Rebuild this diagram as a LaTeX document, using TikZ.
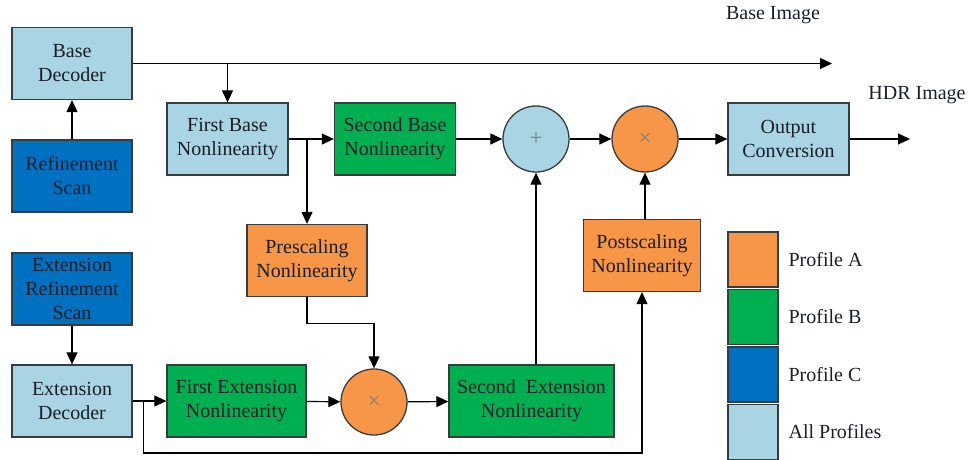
\documentclass[tikz,border=0pt]{standalone}
\usepackage{fontspec}
\setmainfont{Liberation Serif}
\usetikzlibrary{calc,arrows.meta}

\definecolor{lblue}{RGB}{168,212,228}
\definecolor{pgreen}{RGB}{0,176,80}
\definecolor{pblue}{RGB}{0,112,192}
\definecolor{porange}{RGB}{247,150,70}
\definecolor{edge}{RGB}{55,60,65}
\definecolor{ink}{RGB}{25,30,40}

\begin{document}
\begin{tikzpicture}[x=1pt,y=-1pt,>={Triangle[length=12pt,width=11pt]},line width=1.2pt,
    box/.style={draw=edge,line width=1.3pt,minimum width=#1,minimum height=72pt,
                inner sep=0pt,align=center,text=ink,font=\fontsize{20}{24}\selectfont},
    box/.default=120pt,
    op/.style={circle,draw=edge,line width=1.3pt,minimum size=66pt,inner sep=0pt,
               text=gray,font=\fontsize{23}{23}\selectfont},
    legbox/.style={draw=edge,line width=1.3pt,minimum width=50pt,minimum height=55pt,inner sep=0pt},
    lbl/.style={text=ink,font=\fontsize{20}{24}\selectfont}]

    \useasboundingbox (0,0) rectangle (969,460);

%   upper path
    \node[box,fill=lblue]   (basedec) at (72,63.5)   {Base\\Decoder};
    \node[box,fill=pblue]   (refscan) at (72,176)    {Refinement\\Scan};
    \node[box=121pt,fill=lblue] (fbnl) at (227.5,139) {First Base\\Nonlinearity};
    \node[box=121pt,fill=pgreen] (sbnl) at (395,139) {Second Base\\Nonlinearity};
    \node[op,fill=lblue]    (plus)    at (536,139)   {+};
    \node[op,fill=porange]  (times)   at (645,139)   {×};
    \node[box=121pt,fill=lblue] (outconv) at (788.5,139) {Output\\Conversion};

%   lower path
    \node[box,fill=porange] (presc)   at (307,260.5) {Prescaling\\Nonlinearity};
    \node[box,fill=pblue]   (extref)  at (72,289)    {Extension\\Refinement\\Scan};
    \node[box,fill=lblue]   (extdec)  at (72,401)    {Extension\\Decoder};
    \node[box=139pt,fill=pgreen] (fenl) at (236.5,401) {First Extension\\Nonlinearity};
    \node[op,fill=porange]  (times2)  at (374,402)   {×};
    \node[box=165pt,fill=pgreen] (senl) at (531.5,401) {Second\ \ Extension\\Nonlinearity};
    \node[box=117pt,fill=porange] (postsc) at (642,255.5) {Postscaling\\Nonlinearity};

%   outputs
    \coordinate (baseout) at (832,63.5);
    \coordinate (hdrout)  at (910,139);
    \node[lbl] (baseimg) at (773,15) {Base Image};
    \node[lbl] (hdrimg)  at (917,95) {HDR Image};

%   legend
    \node[legbox,fill=porange] (legA) at (753,259.5) {};
    \node[legbox,fill=pgreen]  (legB) at (753,317)   {};
    \node[legbox,fill=pblue]   (legC) at (753,374.5) {};
    \node[legbox,fill=lblue]   (legD) at (753,432)   {};
    \node[lbl,anchor=west] (labA) at ($(legA.east)+(6,0)$) {Profile A};
    \node[lbl,anchor=west] (labB) at ($(legB.east)+(6,0)$) {Profile B};
    \node[lbl,anchor=west] (labC) at ($(legC.east)+(6,0)$) {Profile C};
    \node[lbl,anchor=west] (labD) at ($(legD.east)+(6,0)$) {All Profiles};

%   connectors
    \draw[->] (refscan) -- (basedec);
    \draw[->] (basedec.east) -- (baseout);
    \draw[->] (fbnl.north |- basedec.east) -- (fbnl.north);
    \draw[->] (fbnl) -- (sbnl);
    \draw[->] (presc.north |- fbnl.east) -- (presc.north);
    \draw[->] (sbnl) -- (plus);
    \draw[->] (plus) -- (times);
    \draw[->] (times) -- (outconv);
    \draw[->] (outconv) -- (hdrout);

    \draw[->] (extref) -- (extdec);
    \draw[->] (extdec) -- (fenl);
    \coordinate (split) at ($(extdec.east)+(11,0)$);
    \draw[->] (split) -- ++(0,52) -| (postsc.south);
    \draw[->] (presc.south) -- ++(0,26) -| (times2.north);
    \draw[->] (fenl) -- (times2);
    \draw[->] (times2) -- (senl);
    \draw[->] (plus.south |- senl.north) -- (plus.south);
    \draw[->] (times.south |- postsc.north) -- (times.south);

\end{tikzpicture}
\end{document}
